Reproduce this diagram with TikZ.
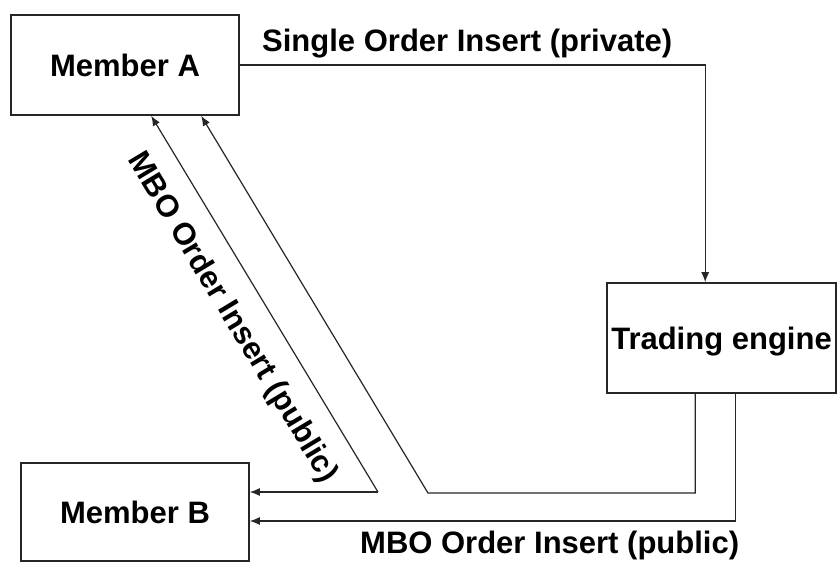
\documentclass[tikz,border=0pt]{standalone}
\usepackage{fontspec}
\setmainfont{Liberation Sans}
\usetikzlibrary{arrows.meta}
\begin{document}
\begin{tikzpicture}[x=1pt,y=-1pt,
  font=\fontsize{31}{36}\selectfont\bfseries,
  box/.style={draw=black!85,line width=1.6pt,rectangle,inner sep=0pt,align=center},
  flow/.style={draw=black!85,line width=1.2pt,-{Latex[length=10pt,width=8pt]}},
  lbl/.style={inner sep=0pt}]
  \useasboundingbox (0,0) rectangle (837,563);

  % participants
  \node[box,minimum width=228pt,minimum height=100pt] (A) at (125,65) {Member A};
  \node[box,minimum width=228pt,minimum height=98pt] (B) at (135,512) {Member B};
  \node[box,minimum width=229pt,minimum height=110pt,text depth=0pt] (T) at (721.5,338) {Trading engine};

  % private insert from A into the engine
  \draw[flow] (A.east) -| ([xshift=99pt]T.north west);
  \node[lbl,anchor=base west] (lp) at (262,51) {Single Order Insert (private)};

  % public broadcasts from the engine
  \coordinate (k) at (428,493);
  \draw[flow] ([xshift=89pt]T.south west) |- (k) -- ([xshift=191pt]A.south west);
  \draw[flow] ([xshift=129pt]T.south west) |- ([yshift=-9pt]B.east);
  \node[lbl,anchor=base west] (lb) at (360,553) {MBO Order Insert (public)};

  % fan-out point feeding both members
  \coordinate (j) at (378,492);
  \draw[flow] (j) -- ([xshift=141pt]A.south west);
  \draw[flow] (j) -- (B.east |- j);
  \node[lbl,rotate=-58.93] (ld) at (232,318) {MBO Order Insert (public)};
\end{tikzpicture}
\end{document}
